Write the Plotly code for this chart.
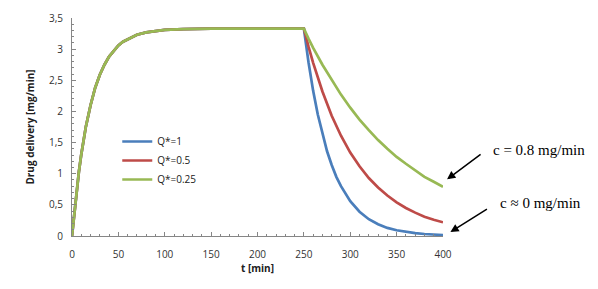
import plotly.graph_objects as go

# Shared rising phase (all three curves coincide), t in min, delivery in mg/min
t_rise = [0, 2, 5, 7.5, 10, 12.5, 15, 20, 25, 30, 35, 40, 45, 50, 55, 60, 70, 80, 90, 100, 120, 150, 200, 250]
y_rise = [0, 0.31, 0.74, 1.04, 1.31, 1.55, 1.76, 2.10, 2.38, 2.59, 2.75, 2.88, 2.98, 3.06, 3.12, 3.16, 3.23, 3.27, 3.29, 3.31, 3.32, 3.33, 3.33, 3.33]

# Decay phase
t_blue = [255, 260, 265, 270, 275, 280, 285, 290, 295, 300, 310, 320, 330, 340, 350, 360, 370, 380, 390, 400]
y_blue = [2.79, 2.33, 1.95, 1.63, 1.36, 1.14, 0.95, 0.80, 0.67, 0.56, 0.39, 0.27, 0.19, 0.13, 0.093, 0.065, 0.046, 0.032, 0.022, 0.016]

t_dec = [255, 260, 270, 280, 290, 300, 310, 320, 330, 340, 350, 360, 370, 380, 390, 400]
y_red = [3.04, 2.78, 2.32, 1.93, 1.61, 1.34, 1.12, 0.93, 0.78, 0.65, 0.54, 0.45, 0.375, 0.31, 0.26, 0.22]
y_green = [3.17, 3.02, 2.75, 2.50, 2.27, 2.06, 1.87, 1.70, 1.54, 1.40, 1.27, 1.16, 1.05, 0.95, 0.87, 0.79]

series_names = ["Q*=1", "Q*=0.5", "Q*=0.25"]
colors = ["#4A7EBB", "#BE4B48", "#98B954"]

fig = go.Figure()
fig.add_trace(go.Scatter(x=t_rise + t_blue, y=y_rise + y_blue, mode="lines",
                         name=series_names[0], line=dict(color=colors[0], width=2.7)))
fig.add_trace(go.Scatter(x=t_rise + t_dec, y=y_rise + y_red, mode="lines",
                         name=series_names[1], line=dict(color=colors[1], width=2.7)))
fig.add_trace(go.Scatter(x=t_rise + t_dec, y=y_rise + y_green, mode="lines",
                         name=series_names[2], line=dict(color=colors[2], width=2.7)))

font_family = "Open Sans, Liberation Sans, sans-serif"
axis_common = dict(showgrid=False, zeroline=False, showline=True, linecolor="#868686", linewidth=1,
                   ticks="inside", ticklen=4, tickcolor="#868686", automargin=False,
                   tickfont=dict(family=font_family, size=10, color="#333333"))

fig.update_xaxes(range=[0, 400], dtick=50, tick0=0, ticklabelstandoff=9,
                 minor=dict(dtick=10, ticks="inside", ticklen=2, tickcolor="#868686"),
                 title=dict(text="<b>t [min]</b>", font=dict(family=font_family, size=10, color="#202020"), standoff=0),
                 **axis_common)
fig.update_yaxes(range=[0, 3.5], dtick=0.5, tick0=0, ticklabelstandoff=6,
                 minor=dict(dtick=0.1, ticks="inside", ticklen=2, tickcolor="#868686"),
                 title=dict(text="<b>Drug delivery [mg/min]</b>", font=dict(family=font_family, size=10, color="#202020"), standoff=12),
                 **axis_common)

# Annotations in paper coordinates
arrow = dict(showarrow=True, arrowhead=2, arrowsize=1.1, arrowwidth=1.5, arrowcolor="black",
             axref="pixel", ayref="pixel", text="", xref="paper", yref="paper")
fig.add_annotation(x=1.011, y=0.26, ax=35, ay=-26, **arrow)
fig.add_annotation(x=1.02, y=0.018, ax=38, ay=-24, **arrow)
serif = dict(family="Liberation Serif, Times New Roman, serif", size=15, color="black")
fig.add_annotation(x=1.258, y=0.394, xref="paper", yref="paper", text="c = 0.8 mg/min", showarrow=False,
                   font=serif, xanchor="center", yanchor="middle")
fig.add_annotation(x=1.264, y=0.152, xref="paper", yref="paper", text="c ≈ 0 mg/min", showarrow=False,
                   font=serif, xanchor="center", yanchor="middle")

fig.update_layout(
    width=598, height=289,
    margin=dict(l=64, r=163, t=10, b=61),
    paper_bgcolor="white", plot_bgcolor="white",
    separators=", ",
    showlegend=True,
    legend=dict(x=0.122, y=0.50, xanchor="left", yanchor="top", bgcolor="rgba(0,0,0,0)",
                font=dict(family=font_family, size=10, color="#202020"),
                tracegroupgap=0, itemwidth=30),
)

fig.write_html("out.html", config={"displayModeBar": False})
